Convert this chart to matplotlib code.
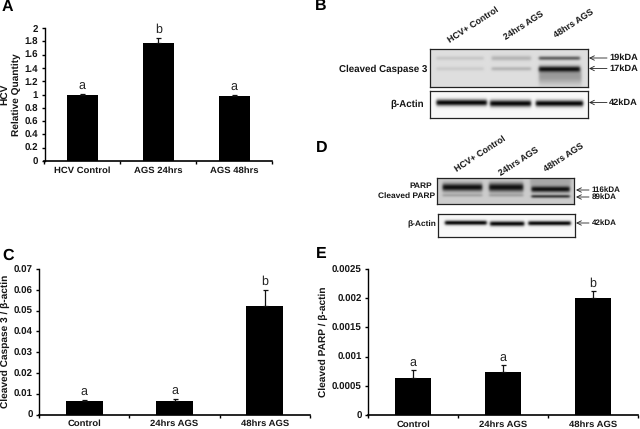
import numpy as np
import matplotlib
matplotlib.use('Agg')
import matplotlib.pyplot as plt

plt.rcParams['font.family'] = ['Liberation Sans', 'DejaVu Sans']
plt.rcParams['text.hinting'] = 'no_hinting'

W, H = 640, 429

# Bar panels
a_labels = ['HCV Control', 'AGS 24hrs', 'AGS 48hrs']
a_values = [1.0, 1.78, 0.97]
a_errors = [0.01, 0.07, 0.03]
a_letters = ['a', 'b', 'a']
a_ticks = [0, 0.2, 0.4, 0.6, 0.8, 1, 1.2, 1.4, 1.6, 1.8, 2]

c_labels = ['Control', '24hrs AGS', '48hrs AGS']
c_values = [0.0065, 0.0065, 0.052]
c_errors = [0.0005, 0.001, 0.008]
c_letters = ['a', 'a', 'b']
c_ticks = [0, 0.01, 0.02, 0.03, 0.04, 0.05, 0.06, 0.07]

e_labels = ['Control', '24hrs AGS', '48hrs AGS']
e_values = [0.00064, 0.00073, 0.00201]
e_errors = [0.00013, 0.00012, 0.00011]
e_letters = ['a', 'a', 'b']
e_ticks = [0, 0.0005, 0.001, 0.0015, 0.002, 0.0025]

# Blot bands: lane start, lane end, height in box, thickness (px), darkness
b_top = [(0.04, 0.34, 0.24, 2.0, 0.10), (0.39, 0.64, 0.24, 2.5, 0.18), (0.69, 0.95, 0.24, 2.0, 0.55),
         (0.04, 0.34, 0.52, 2.0, 0.08), (0.39, 0.64, 0.52, 2.0, 0.18), (0.69, 0.95, 0.53, 3.0, 0.92),
         (0.69, 0.96, 0.72, 8.0, 0.30)]
b_actin = [(0.04, 0.36, 0.43, 3.2, 0.97), (0.38, 0.64, 0.46, 3.4, 0.97), (0.67, 0.97, 0.46, 3.2, 0.97)]
d_top = [(0.04, 0.33, 0.38, 3.8, 0.92), (0.38, 0.63, 0.38, 4.2, 0.92), (0.69, 0.97, 0.45, 3.0, 0.92),
         (0.04, 0.33, 0.68, 1.6, 0.18), (0.38, 0.63, 0.68, 1.6, 0.18), (0.69, 0.97, 0.72, 1.6, 0.70),
         (0.68, 0.98, 0.15, 6.0, 0.18)]
d_actin = [(0.05, 0.355, 0.38, 2.3, 0.97), (0.38, 0.63, 0.42, 2.5, 0.97), (0.66, 0.97, 0.40, 2.3, 0.97)]


def pix_axes(fig, x0, y0, x1, y1):
    return fig.add_axes([x0 / W, 1 - y1 / H, (x1 - x0) / W, (y1 - y0) / H])


def fig_text(fig, x, y, s, **kw):
    kw.setdefault('ha', 'left')
    kw.setdefault('va', 'center')
    kw.setdefault('color', '#151515')
    fig.text(x / W, 1 - y / H, s, **kw)


def arrow(fig, x0, x1, y):
    fig.add_artist(matplotlib.patches.FancyArrowPatch(
        (x1 / W, 1 - y / H), (x0 / W, 1 - y / H), transform=fig.transFigure,
        arrowstyle='->', mutation_scale=8, lw=0.6, color='#222222', shrinkA=0, shrinkB=0))


def bar_panel(fig, box, labels, values, errors, letters, ticks, ymax, ylabel, gap, lx):
    ax = pix_axes(fig, *box)
    xs = np.arange(len(values))
    ax.bar(xs, values, width=0.41, color='black')
    ax.errorbar(xs, values, yerr=[np.zeros(len(errors)), errors], fmt='none', ecolor='#111111',
                elinewidth=0.9, capsize=1.8, capthick=0.9)
    for x, v, er, s in zip(xs, values, errors, letters):
        ax.text(x, v + er + gap, s, ha='center', va='bottom', fontsize=9, color='#222222')
    ax.set_xlim(-0.5, len(values) - 0.5)
    ax.set_ylim(0, ymax)
    ax.set_xticks(np.arange(len(values) + 1) - 0.5)
    ax.set_xticklabels([])
    ax.set_xticks(xs, labels, minor=True, fontsize=6.8, fontweight='bold', color='#151515')
    ax.tick_params(axis='x', which='minor', length=0, pad=3.8)
    ax.tick_params(axis='x', which='major', length=2.5, width=1, direction='out')
    ax.set_yticks(ticks)
    ax.set_yticklabels([f'{t:g}' for t in ticks], fontsize=7, fontweight='bold', color='#151515')
    ax.tick_params(axis='y', length=2.5, width=1, direction='out', pad=2)
    ax.spines['top'].set_visible(False)
    ax.spines['right'].set_visible(False)
    ax.spines['left'].set_linewidth(1)
    ax.spines['bottom'].set_linewidth(1.2)
    fig_text(fig, lx, (box[1] + box[3]) / 2, ylabel, rotation=90, ha='center',
             fontsize=7.3, fontweight='bold', multialignment='center')
    return ax


def blot(fig, box, bands, bg):
    ax = pix_axes(fig, *box)
    w, h = box[2] - box[0], box[3] - box[1]
    px, py = np.meshgrid(np.linspace(0, 1, w * 3), np.linspace(0, 1, h * 3))
    img = np.full(px.shape, 1.0)
    for start, end, pos, thick, dark in bands:
        lane = 0.5 * (np.tanh((px - start) * w / 1.5) - np.tanh((px - end) * w / 1.5))
        row = np.exp(-(((py - pos) * h / thick) ** 2))
        img *= 1 - dark * lane * row
    ax.imshow(img * bg, cmap='gray', vmin=0, vmax=1, aspect='auto', extent=(0, 1, 1, 0),
              interpolation='bilinear')
    ax.set_xticks([])
    ax.set_yticks([])
    for s in ax.spines.values():
        s.set_linewidth(0.9)
        s.set_color('#222222')
    return ax


fig = plt.figure(figsize=(W / 100, H / 100), dpi=100)

bar_panel(fig, (44.5, 28, 272, 161), a_labels, a_values, a_errors, a_letters, a_ticks, 2,
          'HCV\nRelative Quantity', 0.03, 11)
bar_panel(fig, (39, 269, 310, 414.5), c_labels, c_values, c_errors, c_letters, c_ticks, 0.07,
          'Cleaved Caspase 3 / β-actin', 0.001, 5)
bar_panel(fig, (368, 269, 638, 415), e_labels, e_values, e_errors, e_letters, e_ticks, 0.0025,
          'Cleaved PARP / β-actin', 0.00003, 323)

# Panel B
blot(fig, (430, 49, 588, 87), b_top, 0.87)
blot(fig, (430, 91, 588, 118), b_actin, 0.97)
for x, y, s in [(451, 44, 'HCV+ Control'), (507, 41, '24hrs AGS'), (557, 39, '48hrs AGS')]:
    fig_text(fig, x, y, s, rotation=33, rotation_mode='anchor', va='bottom', fontsize=6.5, fontweight='bold')
fig_text(fig, 427, 69, 'Cleaved Caspase 3', ha='right', fontsize=7, fontweight='bold')
fig_text(fig, 424, 104, 'β-Actin', ha='right', fontsize=7, fontweight='bold')
for y, s in [(58, '19kDA'), (68.5, '17kDA'), (102.5, '42kDA')]:
    arrow(fig, 589, 607, y)
    fig_text(fig, 609, y, s, fontsize=6.7, fontweight='bold')

# Panel D
blot(fig, (437, 178, 574, 204), d_top, 0.80)
blot(fig, (438, 214, 575, 237), d_actin, 0.97)
for x, y, s in [(458, 173, 'HCV+ Control'), (502, 177, '24hrs AGS'), (547, 173, '48hrs AGS')]:
    fig_text(fig, x, y, s, rotation=33, rotation_mode='anchor', va='bottom', fontsize=6.5, fontweight='bold')
fig_text(fig, 432, 186, 'PARP', ha='right', fontsize=6, fontweight='bold')
fig_text(fig, 435, 196, 'Cleaved PARP', ha='right', fontsize=6, fontweight='bold')
fig_text(fig, 436, 224, 'β-Actin', ha='right', fontsize=6, fontweight='bold')
for y, s in [(190, '116kDA'), (197, '89kDA'), (223, '42kDA')]:
    arrow(fig, 576, 589, y)
    fig_text(fig, 592, y, s, fontsize=5.8, fontweight='bold')

# Panel letters
for x, y, s in [(2, 6.5, 'A'), (315, 6, 'B'), (2, 255.5, 'C'), (316, 147.5, 'D'), (316, 254, 'E')]:
    fig_text(fig, x, y, s, fontsize=11.5, fontweight='bold', color='black')

fig.savefig('out.png', dpi=100)
